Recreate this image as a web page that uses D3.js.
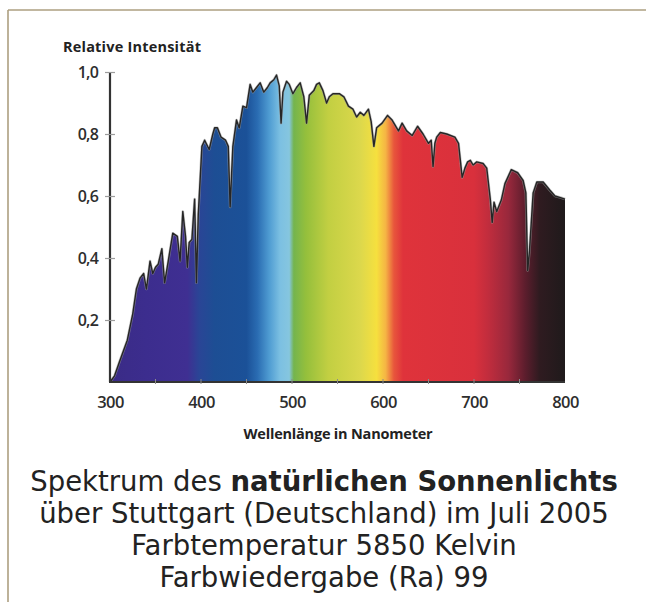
<!DOCTYPE html>
<html>
<head>
<meta charset="utf-8">
<script src="https://cdn.jsdelivr.net/npm/d3@7"></script>
<style>
  html, body { margin: 0; padding: 0; background: #fff; }
  svg { display: block; }
</style>
</head>
<body>
<svg id="chart" width="646" height="602"></svg>
<script>
// Measured solar spectrum, Stuttgart, July 2005 (relative intensity by wavelength)
const wavelengths = [
  300, 305, 311, 319, 325, 329, 333, 337, 340, 344, 347, 350, 353, 357, 360, 364,
  369, 374, 377, 380, 383, 385, 387, 390, 393, 395, 397, 401, 404, 409, 413, 415,
  418, 422, 427, 430, 432, 435, 439, 442, 446, 450, 454, 457, 461, 465, 469, 473,
  476, 480, 483, 486, 488, 490, 494, 497, 501, 505, 509, 513, 516, 519, 524, 527,
  530, 534, 538, 541, 545, 552, 557, 562, 567, 571, 575, 579, 584, 587, 590, 593,
  599, 605, 610, 617, 621, 626, 632, 638, 644, 650, 653, 655, 657, 659, 663, 670,
  679, 683, 685, 687, 690, 693, 696, 699, 703, 710, 714, 718, 720, 722, 725, 730,
  734, 741, 748, 754, 757, 759, 761, 765, 769, 776, 783, 789, 795, 800
];
const intensity = [
  0.00, 0.02, 0.07, 0.135, 0.22, 0.30, 0.335, 0.35, 0.30, 0.39, 0.35, 0.37, 0.38, 0.43, 0.32, 0.39,
  0.48, 0.47, 0.39, 0.55, 0.47, 0.37, 0.45, 0.46, 0.59, 0.32, 0.54, 0.76, 0.78, 0.75, 0.80, 0.82,
  0.82, 0.79, 0.78, 0.76, 0.565, 0.76, 0.845, 0.82, 0.89, 0.885, 0.96, 0.935, 0.95, 0.965, 0.935, 0.95,
  0.965, 0.975, 0.99, 0.955, 0.835, 0.935, 0.97, 0.96, 0.93, 0.95, 0.965, 0.92, 0.835, 0.925, 0.94, 0.96,
  0.965, 0.94, 0.90, 0.92, 0.93, 0.93, 0.92, 0.89, 0.88, 0.855, 0.87, 0.86, 0.88, 0.84, 0.76, 0.82,
  0.835, 0.86, 0.845, 0.81, 0.835, 0.81, 0.795, 0.825, 0.80, 0.77, 0.78, 0.695, 0.77, 0.79, 0.805, 0.80,
  0.79, 0.77, 0.715, 0.66, 0.69, 0.71, 0.715, 0.70, 0.71, 0.705, 0.69, 0.587, 0.515, 0.58, 0.55, 0.587,
  0.64, 0.685, 0.675, 0.65, 0.61, 0.36, 0.425, 0.61, 0.645, 0.645, 0.62, 0.60, 0.595, 0.59
];

const xTicks = [300, 400, 500, 600, 700, 800];
const xMinorTicks = [350, 450, 550, 650, 750];
const yTicks = [0.2, 0.4, 0.6, 0.8, 1.0];

const yTitle = "Relative Intensität";
const xTitle = "Wellenlänge in Nanometer";
const captionLines = [
  [["Spektrum des ", false], ["natürlichen Sonnenlichts", true]],
  [["über Stuttgart (Deutschland) im Juli 2005", false]],
  [["Farbtemperatur 5850 Kelvin", false]],
  [["Farbwiedergabe (Ra) 99", false]]
];

const points = wavelengths.map((w, i) => ({ w, v: intensity[i] }));

const svg = d3.select("#chart");
const frame = "#ad9f80";

// thin frame along the top and left edge
svg.append("line").attr("x1", 8).attr("y1", 10).attr("x2", 646).attr("y2", 10)
  .attr("stroke", frame).attr("stroke-width", 1.6);
svg.append("line").attr("x1", 8).attr("y1", 10).attr("x2", 8).attr("y2", 602)
  .attr("stroke", frame).attr("stroke-width", 1.6);

const x = d3.scaleLinear().domain([300, 800]).range([110, 565]);
const y = d3.scaleLinear().domain([0, 1]).range([382, 72]);

// visible-light colour ramp used to fill the spectrum
const spectrumStops = [
  [300, "#3a2b86"], [340, "#3c2d8e"], [385, "#3f2f92"], [398, "#2a4596"],
  [415, "#1d4e94"], [450, "#1b5198"], [462, "#2a6cb2"], [475, "#4f9cd2"],
  [487, "#7cc0e2"], [497, "#86c6df"], [502, "#74b44e"], [515, "#94bf3c"],
  [540, "#c2cf42"], [575, "#dcd84c"], [593, "#f6e03e"], [603, "#f5b444"],
  [612, "#e8563c"], [622, "#df333b"], [700, "#d9303c"], [715, "#c22d3d"],
  [738, "#98283c"], [757, "#5a1d2c"], [772, "#2f1b20"], [800, "#1f1a1b"]
];
const defs = svg.append("defs");
const grad = defs.append("linearGradient").attr("id", "spectrum")
  .attr("gradientUnits", "userSpaceOnUse")
  .attr("x1", x(300)).attr("x2", x(800)).attr("y1", 0).attr("y2", 0);
grad.selectAll("stop").data(spectrumStops).join("stop")
  .attr("offset", d => (d[0] - 300) / 500)
  .attr("stop-color", d => d[1]);

const area = d3.area().x(d => x(d.w)).y0(y(0)).y1(d => y(d.v)).curve(d3.curveLinear);
const line = d3.line().x(d => x(d.w)).y(d => y(d.v)).curve(d3.curveLinear);

svg.append("path").datum(points).attr("d", area).attr("fill", "url(#spectrum)");
// soft grey halo under the outline
svg.append("path").datum(points).attr("d", line)
  .attr("fill", "none").attr("stroke", "#9a9a9a").attr("stroke-width", 2.6)
  .attr("stroke-linejoin", "round").attr("opacity", 0.6);
svg.append("path").datum(points).attr("d", line)
  .attr("fill", "none").attr("stroke", "#262626").attr("stroke-width", 1.4)
  .attr("stroke-linejoin", "round");

const de = d3.formatLocale({ decimal: ",", thousands: ".", grouping: [3], currency: ["", "€"] });
const fmtY = de.format(".1f");

const labelFont = "'Open Sans', 'DejaVu Sans', sans-serif";

// y axis
const yAxis = svg.append("g").attr("transform", `translate(${x(300)},0)`)
  .call(d3.axisLeft(y).tickValues(yTicks).tickFormat(fmtY).tickSizeInner(0).tickSizeOuter(0).tickPadding(12));
yAxis.select(".domain").attr("stroke", "#333").attr("stroke-width", 2.2)
  .attr("d", `M0,${y(0)}V${y(1)}`);
yAxis.selectAll(".tick line").attr("x1", -5).attr("x2", 5).attr("stroke", "#9c9c9c").attr("stroke-width", 1.2);
yAxis.selectAll(".tick text")
  .attr("font-family", labelFont).attr("font-size", 16).attr("font-weight", 600)
  .attr("fill", "#2e2e2e").attr("letter-spacing", -0.8);

// x axis
const xAxis = svg.append("g").attr("transform", `translate(0,${y(0)})`)
  .call(d3.axisBottom(x).tickValues(xTicks).tickFormat(d3.format("d")).tickSizeInner(0).tickSizeOuter(0).tickPadding(14));
xAxis.select(".domain").attr("stroke", "#333").attr("stroke-width", 2.2)
  .attr("d", `M${x(300) - 1},0H${x(800)}`);
xAxis.selectAll(".tick text")
  .attr("font-family", labelFont).attr("font-size", 16.5).attr("font-weight", 600)
  .attr("fill", "#2e2e2e").attr("letter-spacing", -0.6);
xAxis.selectAll(".minor").data(xMinorTicks.concat(xTicks.slice(1, -1))).join("line")
  .attr("class", "minor")
  .attr("x1", d => x(d)).attr("x2", d => x(d)).attr("y1", -3).attr("y2", 2)
  .attr("stroke", "#8a8a8a").attr("stroke-width", 1);

// axis titles
svg.append("text").attr("x", 63).attr("y", 52)
  .attr("font-family", labelFont).attr("font-size", 14.5).attr("font-weight", 700)
  .attr("fill", "#222").attr("letter-spacing", 0.2).text(yTitle);
svg.append("text").attr("x", 338).attr("y", 439).attr("text-anchor", "middle")
  .attr("font-family", labelFont).attr("font-size", 14.5).attr("font-weight", 700)
  .attr("fill", "#222").attr("letter-spacing", -0.2).text(xTitle);

// caption
const cap = svg.append("text").attr("text-anchor", "middle")
  .attr("font-family", "'DejaVu Sans', Verdana, sans-serif").attr("font-size", 27.5).attr("fill", "#222");
captionLines.forEach((parts, i) => {
  parts.forEach((p, j) => {
    const t = cap.append("tspan").text(p[0]).attr("font-weight", p[1] ? 700 : 400);
    if (j === 0) t.attr("x", 324).attr("y", 491 + i * 32);
  });
});
</script>
</body>
</html>
